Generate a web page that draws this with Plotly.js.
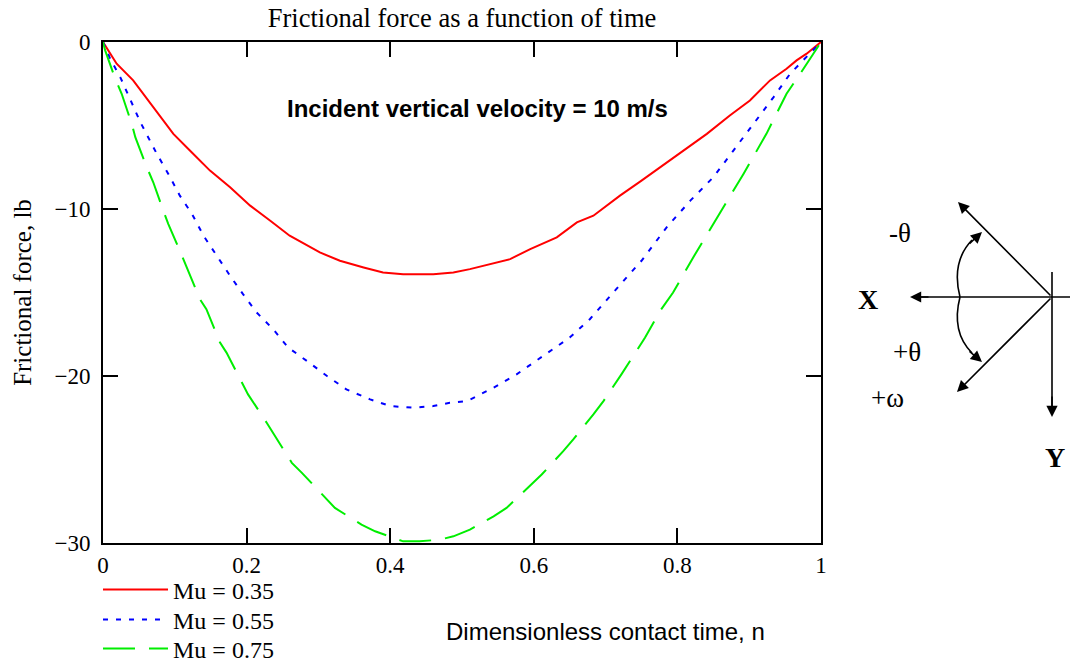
<!DOCTYPE html>
<html>
<head>
<meta charset="utf-8">
<script src="https://cdn.plot.ly/plotly-3.0.1.min.js"></script>
<style>html,body{margin:0;padding:0;background:#fff;}#chart{width:1070px;height:664px;}</style>
</head>
<body>
<div id="chart"></div>
<script>
// ---- data ----
const seriesNames = ["Mu = 0.35", "Mu = 0.55", "Mu = 0.75"];

const xMu035 = [0, 0.019, 0.042, 0.070, 0.098, 0.121, 0.149, 0.177, 0.205, 0.233, 0.260, 0.302, 0.330, 0.363, 0.390, 0.418, 0.460, 0.488, 0.511, 0.567, 0.595, 0.632, 0.660, 0.683, 0.720, 0.750, 0.776, 0.799, 0.841, 0.873, 0.901, 0.929, 0.952, 0.966, 0.980, 1.0];
const yMu035 = [0, -1.3, -2.3, -3.9, -5.5, -6.5, -7.7, -8.7, -9.8, -10.7, -11.6, -12.6, -13.1, -13.5, -13.8, -13.9, -13.9, -13.8, -13.6, -13.0, -12.4, -11.7, -10.8, -10.4, -9.2, -8.3, -7.5, -6.8, -5.5, -4.4, -3.5, -2.3, -1.6, -1.1, -0.7, 0];

const xMu055 = [0, 0.010, 0.024, 0.038, 0.052, 0.075, 0.091, 0.107, 0.124, 0.140, 0.158, 0.177, 0.195, 0.214, 0.237, 0.258, 0.284, 0.312, 0.339, 0.372, 0.400, 0.432, 0.460, 0.483, 0.507, 0.544, 0.576, 0.613, 0.650, 0.678, 0.702, 0.725, 0.750, 0.785, 0.818, 0.850, 0.878, 0.906, 0.934, 0.957, 0.980, 1.0];
const yMu055 = [0, -1.0, -2.1, -3.5, -4.8, -6.7, -7.9, -9.2, -10.3, -11.6, -12.8, -14.0, -15.1, -16.2, -17.2, -18.3, -19.1, -20.0, -20.8, -21.4, -21.8, -21.9, -21.8, -21.6, -21.5, -20.7, -19.9, -18.8, -17.7, -16.6, -15.4, -14.3, -13.1, -11.1, -9.5, -8.1, -6.5, -4.9, -3.3, -1.9, -0.9, 0];

const xMu075 = [0, 0.003, 0.017, 0.026, 0.040, 0.045, 0.061, 0.070, 0.084, 0.091, 0.110, 0.117, 0.135, 0.144, 0.163, 0.172, 0.193, 0.202, 0.228, 0.240, 0.263, 0.277, 0.309, 0.323, 0.360, 0.379, 0.418, 0.441, 0.469, 0.488, 0.511, 0.544, 0.562, 0.597, 0.611, 0.641, 0.655, 0.683, 0.697, 0.722, 0.736, 0.755, 0.776, 0.794, 0.822, 0.859, 0.892, 0.924, 0.952, 0.971, 1.0];
const yMu075 = [0, -0.5, -2.2, -3.1, -4.9, -5.7, -7.5, -8.4, -10.1, -10.9, -12.8, -13.5, -15.4, -16.0, -18.0, -18.6, -20.3, -21.1, -22.8, -23.6, -25.2, -25.8, -27.3, -27.9, -28.9, -29.3, -29.9, -29.9, -29.8, -29.6, -29.2, -28.4, -27.9, -26.5, -25.9, -24.5, -23.8, -22.3, -21.5, -19.9, -19.0, -17.7, -16.1, -15.0, -12.9, -10.3, -7.9, -5.5, -3.1, -1.9, 0];

const xTickVals = [0, 0.2, 0.4, 0.6, 0.8, 1];
const xTickText = ["0", "0.2", "0.4", "0.6", "0.8", "1"];
const yTickVals = [0, -10, -20, -30];
const yTickText = ["0", "\u221210", "\u221220", "\u221230"];

// ---- layout geometry ----
const W = 1070, H = 664;
const L = 103, R = 821, T = 42, B = 543;
const px = x => (x - L) / (R - L);
const py = y => (B - y) / (B - T);

const SERIF = "'Liberation Serif', 'Times New Roman', serif";
const SANS = "'Liberation Sans', Arial, sans-serif";

const traces = [
  {x: xMu035, y: yMu035, name: seriesNames[0], legend: "legend", mode: "lines",
   line: {color: "#ff0000", width: 2}},
  {x: xMu055, y: yMu055, name: seriesNames[1], legend: "legend2", mode: "lines",
   line: {color: "#0000ff", width: 2, dash: "5px,8px"}},
  {x: xMu075, y: yMu075, name: seriesNames[2], legend: "legend3", mode: "lines",
   line: {color: "#00ee00", width: 2, dash: "32px,14px"}}
];

// diagram geometry (pixel coords)
const C = [1052, 297];
const arrowAnn = (hx, hy, tx, ty) => ({
  x: px(hx), y: py(hy), xref: "paper", yref: "paper",
  ax: tx - hx, ay: ty - hy, axref: "pixel", ayref: "pixel",
  text: "", showarrow: true, arrowhead: 2, arrowsize: 1.4, arrowwidth: 1.6, arrowcolor: "#000"
});
const label = (x, y, text, size, bold) => ({
  x: px(x), y: py(y), xref: "paper", yref: "paper", showarrow: false,
  text: bold ? "<b>" + text + "</b>" : text,
  font: {family: SERIF, size: size, color: "#000"}, xanchor: "center", yanchor: "middle"
});
const pathOf = pts => pts.map((p, i) => (i === 0 ? "M" : (p.length === 4 ? "Q" : "L")) +
  (p.length === 4 ? px(p[0]) + "," + py(p[1]) + " " + px(p[2]) + "," + py(p[3]) : px(p[0]) + "," + py(p[1]))).join(" ");

const shapes = [
  {type: "line", xref: "paper", yref: "paper", x0: px(912), y0: py(C[1]), x1: px(1070), y1: py(C[1]), line: {color: "#000", width: 1.6}},
  {type: "line", xref: "paper", yref: "paper", x0: px(C[0]), y0: py(272), x1: px(C[0]), y1: py(412), line: {color: "#000", width: 1.6}},
  {type: "path", xref: "paper", yref: "paper",
   path: pathOf([[960, 297], [951, 262, 972, 240]]), line: {color: "#000", width: 1.6}},
  {type: "path", xref: "paper", yref: "paper",
   path: pathOf([[960, 297], [951, 332, 972, 353]]), line: {color: "#000", width: 1.6}}
];

const annotations = [
  {x: px(477), y: py(109), xref: "paper", yref: "paper", showarrow: false,
   text: "<b>Incident vertical velocity = 10 m/s</b>", font: {family: SANS, size: 24, color: "#000"}, xanchor: "center", yanchor: "middle"},
  {x: px(605), y: py(631), xref: "paper", yref: "paper", showarrow: false,
   text: "Dimensionless contact time, n", font: {family: SANS, size: 24, color: "#000"}, xanchor: "center", yanchor: "middle"},
  arrowAnn(910, C[1], 930, C[1]),
  arrowAnn(958, 202, C[0], C[1]),
  arrowAnn(957, 392, C[0], C[1]),
  arrowAnn(C[0], 417, C[0], 395),
  arrowAnn(982, 232, 968, 245),
  arrowAnn(982, 362, 968, 350),
  label(900, 233, "-\u03b8", 27, false),
  label(868, 299, "X", 28, true),
  label(907, 352, "+\u03b8", 27, false),
  label(887, 398, "+\u03c9", 27, false),
  label(1055, 457, "Y", 28, true)
];

const legendBase = yc => ({
  x: px(98), y: py(yc), xanchor: "left", yanchor: "middle",
  font: {family: SERIF, size: 24, color: "#000"}, bgcolor: "rgba(0,0,0,0)", itemwidth: 65
});

const layout = {
  width: W, height: H,
  margin: {l: L, r: W - R, t: T, b: H - B, pad: 0, autoexpand: false},
  paper_bgcolor: "#fff", plot_bgcolor: "#fff",
  font: {family: SERIF, size: 23, color: "#000"},
  title: {text: "Frictional force as a function of time", font: {family: SERIF, size: 26.5, color: "#000"},
          x: 0.5, xref: "paper", y: 1 - 18 / H, yref: "container", xanchor: "center", yanchor: "middle"},
  xaxis: {range: [0, 1], tickvals: xTickVals, ticktext: xTickText, ticks: "inside", ticklen: 15, tickwidth: 2,
          tickcolor: "#000", showline: true, linewidth: 2, linecolor: "#000", mirror: "ticks",
          showgrid: false, zeroline: false, tickfont: {family: SERIF, size: 23}, fixedrange: true},
  yaxis: {range: [-30, 0], tickvals: yTickVals, ticktext: yTickText, ticks: "inside", ticklen: 15, tickwidth: 2,
          tickcolor: "#000", showline: true, linewidth: 2, linecolor: "#000", mirror: "ticks",
          showgrid: false, zeroline: false, tickfont: {family: SERIF, size: 23}, fixedrange: true,
          ticklabelstandoff: 6,
          title: {text: "Frictional force, lb", font: {family: SERIF, size: 25}, standoff: 16}},
  showlegend: true,
  legend: legendBase(590),
  legend2: legendBase(620),
  legend3: legendBase(649),
  shapes: shapes,
  annotations: annotations
};

Plotly.newPlot("chart", traces, layout, {displayModeBar: false, staticPlot: true});
</script>
</body>
</html>
